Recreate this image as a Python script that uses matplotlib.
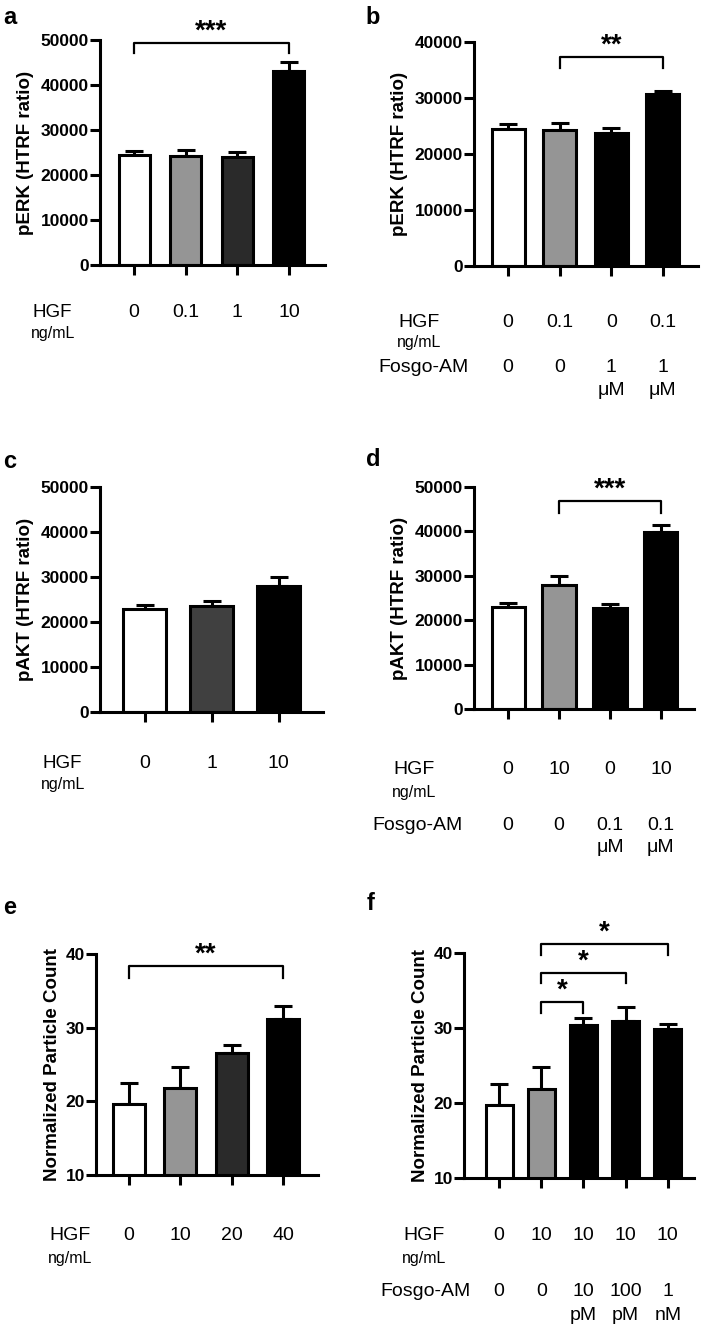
import matplotlib
matplotlib.use('Agg')
import matplotlib.pyplot as plt
from matplotlib import transforms

plt.rcParams['font.family'] = ['Liberation Sans', 'DejaVu Sans']

W, H = 702, 1329

# ---- data ----
# a: pERK vs HGF
a_hgf = ['0', '0.1', '1', '10']
a_mean = [24400, 24200, 23900, 43200]
a_err = [1000, 1300, 1200, 1800]

# b: pERK, HGF +/- Fosgo-AM
b_hgf = ['0', '0.1', '0', '0.1']
b_fosgo = ['0', '0', '1', '1']
b_unit = ['', '', 'μM', 'μM']
b_mean = [24400, 24200, 23800, 30700]
b_err = [1000, 1300, 900, 500]

# c: pAKT vs HGF
c_hgf = ['0', '1', '10']
c_mean = [22800, 23500, 27900]
c_err = [900, 1100, 2000]

# d: pAKT, HGF +/- Fosgo-AM
d_hgf = ['0', '10', '0', '10']
d_fosgo = ['0', '0', '0.1', '0.1']
d_unit = ['', '', 'μM', 'μM']
d_mean = [23000, 28000, 22800, 39900]
d_err = [800, 2000, 900, 1600]

# e: particle count vs HGF
e_hgf = ['0', '10', '20', '40']
e_mean = [19.7, 21.8, 26.5, 31.2]
e_err = [2.8, 2.9, 1.1, 1.7]

# f: particle count, HGF +/- Fosgo-AM
f_hgf = ['0', '10', '10', '10', '10']
f_fosgo = ['0', '0', '10', '100', '1']
f_unit = ['', '', 'pM', 'pM', 'nM']
f_mean = [19.8, 21.9, 30.4, 31.0, 29.9]
f_err = [2.7, 2.9, 1.0, 1.8, 0.7]

WHITE, GRAY, DARK, DARK2, BLACK = 'white', '#959595', '#2a2a2a', '#404040', 'black'
LW = 2.2

fig = plt.figure(figsize=(W / 100, H / 100), dpi=100)


def fy(py):
    return 1 - py / H


def panel(box, xlim, width, means, errs, colors, ylim, yticks, ylabel, labelpad):
    left, right, top, bottom = box
    ax = fig.add_axes([left / W, 1 - bottom / H, (right - left) / W, (bottom - top) / H])
    x = list(range(len(means)))
    ax.bar(x, means, width, color=colors, edgecolor='black', linewidth=LW, zorder=2)
    ax.errorbar(x, means, yerr=[[0] * len(means), errs], fmt='none', ecolor='black',
                elinewidth=LW, capsize=6.5, capthick=LW, zorder=1)
    ax.set_xlim(*xlim)
    ax.set_ylim(*ylim)
    ax.set_yticks(yticks)
    ax.set_xticks(x)
    ax.set_xticklabels([''] * len(x))
    ax.spines['top'].set_visible(False)
    ax.spines['right'].set_visible(False)
    ax.spines['left'].set_linewidth(LW)
    ax.spines['bottom'].set_linewidth(LW)
    ax.tick_params(width=LW, length=7, direction='out', pad=1)
    for t in ax.get_yticklabels():
        t.set_fontweight('bold')
        t.set_fontsize(12.5)
    ax.set_ylabel(ylabel, fontsize=13.5, fontweight='bold', labelpad=labelpad)
    return ax


def row(ax, py, values, size=14):
    tr = transforms.blended_transform_factory(ax.transData, fig.transFigure)
    for i, v in enumerate(values):
        if v:
            ax.text(i, fy(py), v, transform=tr, ha='center', va='center', fontsize=size)


def side(px, py, s, size):
    fig.text(px / W, fy(py), s, ha='center', va='center', fontsize=size)


def bracket(ax, x1, x2, y, drop, stars):
    ax.plot([x1, x1, x2, x2], [y - drop, y, y, y - drop], color='black', lw=1.6,
            clip_on=False, zorder=3)
    ax.annotate(stars, xy=((x1 + x2) / 2, y), xytext=(0, 3), textcoords='offset points',
                ha='center', va='baseline', fontsize=20, fontweight='bold',
                annotation_clip=False)


def letter(px, py, s):
    fig.text(px / W, fy(py), s, ha='center', va='center', fontsize=17, fontweight='bold')


# ---- a ----
ax = panel((100, 325, 40, 265), (-0.66, 3.7), 0.6, a_mean, a_err,
           [WHITE, GRAY, DARK, BLACK], (0, 50000), range(0, 50001, 10000),
           'pERK (HTRF ratio)', 5)
bracket(ax, 0, 3, 49400, 2400, '***')
row(ax, 312, a_hgf)
side(52, 312, 'HGF', 13.5)
side(53, 333, 'ng/mL', 11.5)
letter(10, 17, 'a')

# ---- b ----
ax = panel((474, 698, 42, 266), (-0.66, 3.68), 0.64, b_mean, b_err,
           [WHITE, GRAY, BLACK, BLACK], (0, 40000), range(0, 40001, 10000),
           'pERK (HTRF ratio)', 5)
bracket(ax, 1, 3, 37400, 2100, '**')
row(ax, 323, b_hgf)
row(ax, 368, b_fosgo)
row(ax, 390, b_unit)
side(419, 323, 'HGF', 14)
side(419, 343, 'ng/mL', 11.5)
side(424, 368, 'Fosgo-AM', 14)
letter(373, 17, 'b')

# ---- c ----
ax = panel((100, 323, 487, 712), (-0.67, 2.66), 0.64, c_mean, c_err,
           [WHITE, DARK2, BLACK], (0, 50000), range(0, 50001, 10000),
           'pAKT (HTRF ratio)', 5)
row(ax, 763, c_hgf)
side(62, 763, 'HGF', 13.5)
side(63, 784, 'ng/mL', 11.5)
letter(10, 462, 'c')

# ---- d ----
ax = panel((474, 694, 487, 709), (-0.67, 3.65), 0.65, d_mean, d_err,
           [WHITE, GRAY, BLACK, BLACK], (0, 50000), range(0, 50001, 10000),
           'pAKT (HTRF ratio)', 5)
bracket(ax, 1, 3, 46800, 2600, '***')
row(ax, 770, d_hgf)
row(ax, 826, d_fosgo)
row(ax, 847, d_unit)
side(414, 770, 'HGF', 14)
side(414, 793, 'ng/mL', 11.5)
side(417, 826, 'Fosgo-AM', 14)
letter(373, 460, 'd')

# ---- e ----
ax = panel((96, 318, 954, 1175), (-0.64, 3.68), 0.62, e_mean, e_err,
           [WHITE, GRAY, DARK, BLACK], (10, 40), range(10, 41, 10),
           'Normalized Particle Count', 3)
bracket(ax, 0, 3, 38.4, 1.7, '**')
row(ax, 1236, e_hgf)
side(70, 1236, 'HGF', 14)
side(70, 1258, 'ng/mL', 11.5)
letter(10, 907, 'e')

# ---- f ----
ax = panel((464, 694, 953, 1178), (-0.83, 4.62), 0.64, f_mean, f_err,
           [WHITE, GRAY, BLACK, BLACK, BLACK], (10, 40), range(10, 41, 10),
           'Normalized Particle Count', 3)
bracket(ax, 1, 2, 33.5, 1.5, '*')
bracket(ax, 1, 3, 37.4, 1.4, '*')
bracket(ax, 1, 4, 41.2, 1.4, '*')
row(ax, 1235, f_hgf)
row(ax, 1292, f_fosgo)
row(ax, 1316, f_unit)
side(424, 1235, 'HGF', 14)
side(424, 1258, 'ng/mL', 11.5)
side(426, 1292, 'Fosgo-AM', 14)
letter(371, 903, 'f')

fig.savefig('out.png', dpi=100)
